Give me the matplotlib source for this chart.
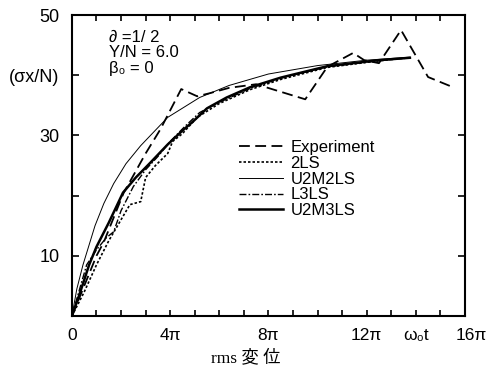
import numpy as np
import matplotlib
matplotlib.use('Agg')
import matplotlib.pyplot as plt

plt.rcParams['font.family'] = ['Liberation Sans', 'DejaVu Sans', 'Noto Sans CJK JP']

# x values are in units of pi (omega_0 t / pi)
exp_x = [0, 0.5, 1.0, 1.3, 2.1, 3.0, 3.6, 4.45, 5.1, 5.6, 6.4, 7.5, 9.5, 10.4, 11.45, 11.9, 12.5, 13.4, 14.5, 15.4]
exp_y = [0, 5, 10, 12.3, 20.4, 27, 31, 37.7, 36.5, 37, 37.9, 38.5, 36, 41.4, 43.7, 42.5, 42.0, 47.5, 39.7, 38.2]

ls2_x = [0, 0.5, 1.0, 1.5, 2.0, 2.36, 2.8, 3.0, 3.4, 3.9, 4.1, 4.5, 5.1, 6.0, 7.25, 8.5, 10.4, 12.5, 13.76]
ls2_y = [0, 4, 8.5, 12.5, 16, 18.5, 19, 23, 25, 27, 29, 30.3, 33, 35.3, 37.6, 39.3, 41.3, 42.4, 42.9]

u2m2_x = [0, 0.2, 0.45, 0.94, 1.3, 1.7, 2.2, 2.8, 3.9, 5.2, 6.4, 8.0, 10.0, 12.0, 13.76]
u2m2_y = [0, 4.5, 8.5, 15, 18.7, 22, 25.3, 28.3, 33.0, 36.3, 38.3, 40.2, 41.6, 42.5, 43.0]

l3_x = [0, 0.35, 0.6, 1.0, 1.4, 1.7, 2.0, 2.5, 3.0, 3.5, 4.0, 4.6, 5.2, 6.0, 7.25, 8.5, 10.4, 12.5, 13.76]
l3_y = [0, 5, 8.5, 11, 13, 14, 17.5, 21.5, 24.3, 26.5, 29, 31.5, 33.8, 35.5, 37.8, 39.5, 41.4, 42.4, 42.9]

u2m3_x = [0, 0.3, 0.7, 1.0, 1.5, 2.08, 2.6, 3.2, 3.9, 4.5, 4.9, 5.5, 6.3, 7.25, 8.5, 10.4, 12.5, 13.76]
u2m3_y = [0, 3.5, 8.5, 11.5, 15.5, 20.5, 23, 25.5, 28.5, 30.8, 32.2, 34.5, 36.3, 38.0, 39.6, 41.5, 42.5, 42.9]

xtick_pos = [0, 4, 8, 12, 14, 16]
xtick_lab = ['0', '4π', '8π', '12π', 'ω₀t', '16π']
ytick_pos = [10, 20, 30, 40, 50]
ytick_lab = ['10', '', '30', '(σx/N)', '50']

fig = plt.figure(figsize=(4.86, 3.69), dpi=100)
ax = fig.add_axes([0.148, 0.1436, 0.8086, 0.8157])

ax.plot(exp_x, exp_y, color='k', lw=1.3, dashes=(6, 3), label='Experiment')
ax.plot(ls2_x, ls2_y, color='k', lw=1.2, dashes=(1.5, 1.2), label='2LS')
ax.plot(u2m2_x, u2m2_y, color='k', lw=0.7, label='U2M2LS')
ax.plot(l3_x, l3_y, color='k', lw=1.0, dashes=(5, 1.5, 1.2, 1.5), label='L3LS')
ax.plot(u2m3_x, u2m3_y, color='k', lw=1.8, label='U2M3LS')

ax.set_xlim(0, 16)
ax.set_ylim(0, 50)
ax.set_xticks(range(0, 17))
ax.set_xticklabels([])
ax.set_yticks(ytick_pos)
ax.set_yticklabels(ytick_lab, fontsize=13)
ax.tick_params(direction='in', length=5, width=1.2, top=True, right=True, pad=9)
ax.tick_params(axis='x', length=4)
for x, lab in zip(xtick_pos, xtick_lab):
    ax.text(x + (0.25 if x == 16 else 0), -2.0, lab, ha='center', va='top', fontsize=12.5)
for s in ax.spines.values():
    s.set_linewidth(1.5)

ax.legend(loc='center left', bbox_to_anchor=(0.405, 0.455), frameon=False, fontsize=12,
          handlelength=2.6, handletextpad=0.45, labelspacing=0.05, borderpad=0)

ax.text(0.095, 0.95, '∂ =1/ 2\nY/N = 6.0\nβ₀ = 0', transform=ax.transAxes,
        ha='left', va='top', fontsize=12, linespacing=1.02)

fig.text(0.505, 0.03, 'rms 変 位', ha='center', va='center', fontsize=12.5,
         family=['Liberation Serif', 'Noto Sans CJK JP'])

fig.savefig('out.png', dpi=100)
